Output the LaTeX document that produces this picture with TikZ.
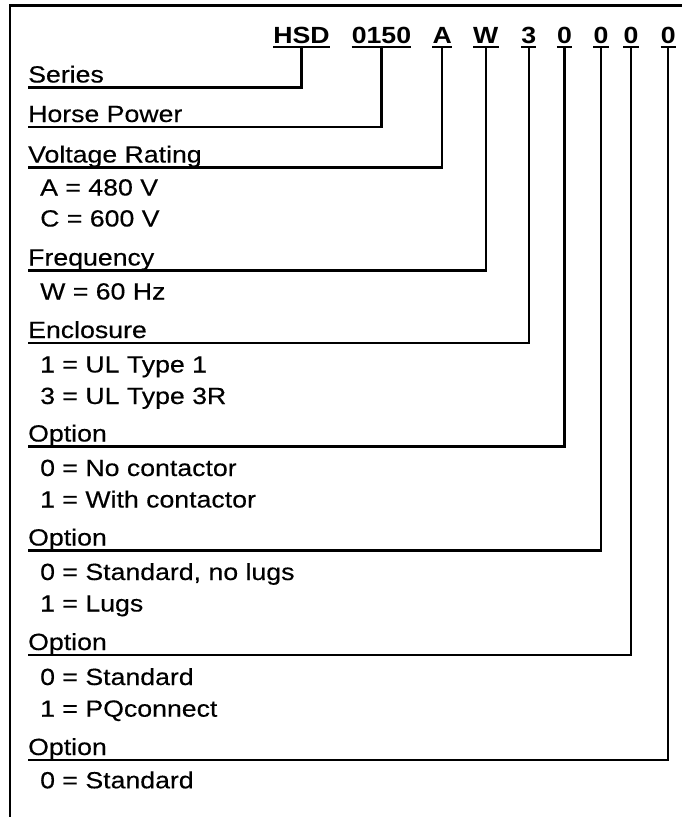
\documentclass[tikz,border=0pt]{standalone}
\usepackage{fontspec}
\setmainfont{Liberation Sans}[FakeStretch=1.14,FakeBold=0.35]
\newfontfamily\codefont{Liberation Sans}[FakeStretch=1.14]
\usetikzlibrary{calc}
\begin{document}
\begin{tikzpicture}[x=1pt,y=-1pt,
  ln/.style={line width=2.1pt},
  txt/.style={anchor=base west, inner sep=0pt, font=\fontsize{23.4}{27}\selectfont},
  code/.style={anchor=base, inner sep=0pt, font=\codefont\fontsize{23.4}{27}\selectfont\bfseries}]
\useasboundingbox (0,0) rectangle (682,817);
% frame
\draw[ln] (10,830) -- (10,5.5) -- (690,5.5);
% code tokens
\node[code] (t1) at (301.5,43.3) {HSD};
\node[code] (t2) at (381.5,43.3) {0150};
\node[code] (t3) at (442.3,43.3) {A};
\node[code] (t4) at (485.8,43.3) {W};
\node[code] (t5) at (528.8,43.3) {3};
\node[code] (t6) at (564.5,43.3) {0};
\node[code] (t7) at (601,43.3) {0};
\node[code] (t8) at (631,43.3) {0};
\node[code] (t9) at (668.3,43.3) {0};
\foreach \t in {t1,t2,t3,t4,t5,t6,t7,t8,t9}
  \draw[ln] ($(\t.base west)+(0,3.7)$) -- ($(\t.base east)+(0,3.7)$);
% headings
\node[txt] (h1) at (28,82.5) {Series};
\node[txt] (h2) at (28,122) {Horse Power};
\node[txt] (h3) at (28,162.5) {Voltage Rating};
\node[txt] (h4) at (28,265.5) {Frequency};
\node[txt] (h5) at (28,338) {Enclosure};
\node[txt] (h6) at (28,441.5) {Option};
\node[txt] (h7) at (28,545.5) {Option};
\node[txt] (h8) at (28,650) {Option};
\node[txt] (h9) at (28,755) {Option};
% connectors
\foreach \k in {1,...,9}
  \draw[ln] ($(h\k.base west)+(0,5)$) -| ($(t\k.base)+(0,3.7)$);
% items
\node[txt] (i3a) at (40,195.5) {A = 480 V};
\node[txt] (i3b) at (40,226.5) {C = 600 V};
\node[txt] (i4a) at (40,299.5) {W = 60 Hz};
\node[txt] (i5a) at (40,372.5) {1 = UL Type 1};
\node[txt] (i5b) at (40,404) {3 = UL Type 3R};
\node[txt] (i6a) at (40,476) {0 = No contactor};
\node[txt] (i6b) at (40,507.5) {1 = With contactor};
\node[txt] (i7a) at (40,580) {0 = Standard, no lugs};
\node[txt] (i7b) at (40,611.5) {1 = Lugs};
\node[txt] (i8a) at (40,685) {0 = Standard};
\node[txt] (i8b) at (40,716.7) {1 = PQconnect};
\node[txt] (i9a) at (40,788.3) {0 = Standard};
\end{tikzpicture}
\end{document}
